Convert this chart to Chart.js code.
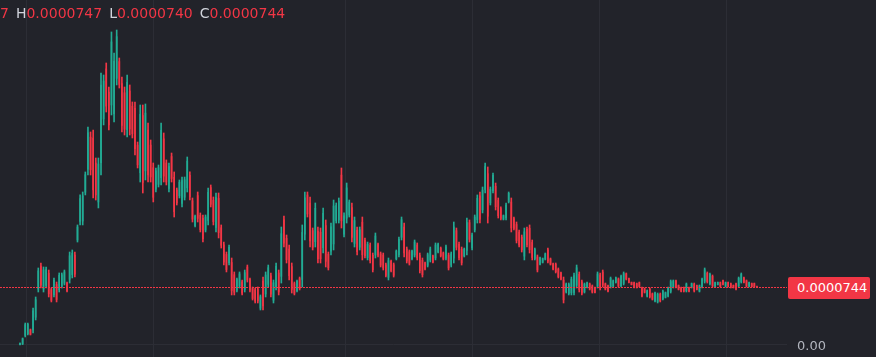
<!DOCTYPE html>
<html><head><meta charset="utf-8">
<script src="https://cdn.jsdelivr.net/npm/chart.js@4.4.1/dist/chart.umd.min.js"></script>
<style>
html,body{margin:0;padding:0;background:#22232a;overflow:hidden}
#wrap{position:relative;width:876px;height:357px}
canvas{display:block}
#legend{position:absolute;left:0;top:6px;font:14px "DejaVu Sans",sans-serif;line-height:14px;white-space:nowrap}
#legend .k{color:#d1d4dc;margin-left:7px}
#legend .v{color:#f23645}
#tag{position:absolute;left:788px;width:73px;height:22px;padding-left:9px;background:#f23645;border-radius:2px;color:#fff;font:13px "DejaVu Sans",sans-serif;line-height:22px;white-space:nowrap}
</style></head>
<body><div id="wrap"><canvas id="c" width="876" height="357"></canvas><div id="legend"></div><div id="tag"></div></div>
<script>
// prices in units of 0.0000001
const opens = [
5,15,123,146,196,192,356,717,1014,718,
763,921,710,645,777,709,754,793,793,843,
903,1155,1347,1586,1590,1960,2255,2667,2653,2334,
1835,2338,2900,3543,3244,3079,2967,3421,3636,3353,
3236,2764,3259,3063,3036,2564,2210,2944,2234,2757,
2565,2275,2000,2061,2148,2645,2335,2008,2418,2151,
1988,1914,1817,1895,2017,2177,1849,1532,1917,1665,
1626,1476,1597,2019,1856,1510,1881,1504,1286,1162,
1057,1059,902,702,756,811,714,1000,838,724,
708,719,472,821,655,778,887,574,748,924,
881,1607,1368,1229,1006,788,698,852,840,1421,
1924,1822,1467,1325,1459,1447,1249,1532,1165,1204,
1296,1596,1604,2179,1423,1627,1668,1762,1303,1471,
1254,1576,1342,1119,1278,1151,1155,1287,1170,1154,
1030,868,1073,1030,1106,1160,1382,1513,1232,1196,
1106,1155,1283,1149,1087,1053,1022,1088,1143,1117,
1195,1242,1181,1114,1154,1024,1115,1467,1293,1229,
1143,1212,1570,1245,1476,1608,1915,1734,1996,2198,
1824,1981,2036,1855,1751,1612,1630,1839,1834,1622,
1546,1449,1385,1140,1483,1497,1316,1109,1129,1038,
1060,1102,1221,1105,1041,1037,973,925,832,682,
660,670,676,766,906,811,682,740,784,758,
735,756,898,936,784,759,748,755,804,846,
762,790,913,852,803,799,787,800,729,723,
627,716,656,567,554,653,592,612,631,687,
743,822,762,736,736,694,736,739,781,762,
691,746,818,920,788,880,752,775,800,826,
752,800,787,765,784,759,810,863,823,752,
789,789,747];
const highs = [
26,90,282,282,205,475,616,988,1052,1001,
1001,962,731,860,808,924,924,962,808,1193,
1219,1193,1540,1925,1963,2220,2797,2733,2758,2399,
2399,3490,3464,3618,3310,4016,3746,4041,3682,3438,
3310,3464,3336,3118,3118,2604,3079,3079,3092,2848,
2630,2335,2271,2309,2848,2720,2374,2335,2463,2220,
2014,2117,2155,2155,2412,2220,1886,1668,1963,1694,
1668,1668,2014,2053,1899,1950,1950,1540,1321,1193,
1283,1116,937,860,937,834,962,1026,860,744,
731,744,642,872,937,1026,924,834,1052,962,
1514,1655,1411,1283,1052,808,834,872,1540,1963,
1963,1899,1501,1822,1514,1501,1758,1604,1193,1565,
1860,1822,1886,2271,1694,2078,1860,1822,1642,1514,
1514,1642,1373,1321,1309,1180,1437,1309,1193,1180,
1052,1116,1091,1052,1219,1386,1642,1565,1257,1219,
1219,1347,1309,1180,1116,1065,1180,1257,1155,1309,
1309,1257,1193,1283,1180,1193,1578,1501,1321,1257,
1244,1629,1604,1437,1668,1925,1963,2027,2335,2284,
2027,2207,2078,1886,1771,1668,1822,1963,1886,1642,
1578,1475,1411,1501,1514,1540,1347,1244,1155,1129,
1116,1180,1244,1116,1052,1052,988,937,872,795,
795,872,924,1026,937,834,795,808,795,770,
744,937,924,962,795,770,872,834,872,860,
898,937,924,860,808,808,795,808,744,731,
706,731,667,680,667,667,706,680,744,834,
834,834,770,744,744,795,744,795,795,770,
770,860,988,937,924,898,808,808,808,834,
808,808,795,770,795,872,924,872,834,808,
795,795,747];
const lows = [
2,5,103,128,128,154,321,680,731,680,
731,616,552,616,552,680,731,770,680,795,
860,872,1321,1540,1540,1925,2181,2181,1886,1860,
1758,2181,2823,2989,2758,2951,2861,3336,3297,2733,
2694,2669,2694,2656,2438,2271,2091,1950,2117,2091,
2091,1835,1963,2027,2053,2091,2053,1963,2091,1642,
1796,1886,1771,1860,1963,1860,1578,1514,1578,1450,
1321,1450,1540,1771,1540,1450,1373,1244,1026,937,
1026,642,642,680,731,642,680,808,680,577,
539,539,449,449,616,744,616,539,706,642,
795,1257,1052,834,667,642,680,706,744,1347,
1642,1257,1219,1257,1052,1052,1180,1001,962,1155,
1219,1565,1565,1501,1386,1565,1642,1321,1257,1155,
1219,1091,1116,1091,1052,937,1116,1129,1001,962,
872,834,937,872,1091,1129,1347,1129,1052,1026,
1091,1129,1091,924,872,962,1001,1065,1052,1091,
1180,1129,1091,1091,962,1001,1052,1219,1091,1026,
1129,1155,1321,1219,1450,1565,1565,1694,1950,1565,
1796,1950,1732,1629,1604,1604,1604,1822,1450,1475,
1309,1257,1193,1091,1257,1180,1091,1091,937,1026,
1052,1091,1052,1026,962,924,860,834,539,667,
642,642,642,731,680,642,667,731,706,667,
667,731,706,744,706,680,731,744,795,744,
744,770,834,795,770,731,731,744,616,667,
616,603,577,552,539,552,577,603,616,667,
731,731,706,680,680,680,680,731,680,706,
680,731,795,795,770,744,744,770,744,770,
744,744,731,731,706,744,795,795,744,744,
744,744,740];
const closes = [
23,80,262,264,137,437,581,951,769,963,
969,657,573,831,583,895,901,939,695,1145,
1176,910,1514,1879,1913,2185,2723,2247,1991,1925,
2322,3333,3387,3064,2824,3888,3640,3956,3343,2818,
2768,3369,2771,2711,2520,2311,2960,2085,2975,2182,
2156,1895,2234,2275,2753,2166,2092,2290,2136,1711,
1822,2089,2109,2120,2358,1903,1615,1650,1624,1479,
1363,1642,1957,1805,1583,1890,1442,1280,1061,968,
1252,699,677,838,912,665,928,834,702,597,
562,564,619,500,898,992,653,799,1010,680,
1428,1305,1095,888,713,662,816,726,1444,1889,
1681,1334,1253,1754,1107,1106,1689,1073,990,1516,
1783,1791,1847,1593,1657,2016,1834,1381,1596,1198,
1479,1157,1147,1293,1083,966,1398,1151,1024,988,
894,1082,955,894,1204,1355,1607,1181,1077,1049,
1204,1321,1117,955,901,974,1159,1234,1064,1283,
1294,1144,1103,1260,988,1170,1515,1253,1119,1054,
1230,1572,1355,1411,1642,1882,1613,1987,2289,1651,
1999,2176,1774,1660,1624,1660,1796,1946,1502,1495,
1341,1283,1219,1452,1288,1223,1122,1226,963,1117,
1108,1169,1075,1037,973,939,875,846,579,780,
777,844,890,991,711,665,780,799,717,679,
676,912,732,770,717,691,855,823,863,758,
880,917,845,803,775,740,739,752,631,675,
695,618,588,665,652,566,691,671,729,814,
822,743,714,688,688,781,688,787,694,714,
759,845,965,812,906,762,800,803,752,778,
800,752,739,736,717,857,909,804,755,800,
750,750,744];
const priceTicks = [0];
const timeGridIdx = [2.3, 50.9, 124.7, 173.3, 221.9, 270.5];

const UNIT = 1e-7;
const UP = '#22ab94', DOWN = '#f23645';
const fmt = v => (v * UNIT).toFixed(7);
const n = closes.length;
const colors = closes.map((c, i) => c >= opens[i] ? UP : DOWN);

const lastIdx = n - 1;
const oStr = fmt(opens[lastIdx]);
const legend = document.getElementById('legend');
legend.innerHTML =
  '<span class="v" style="margin-left:0">' + oStr.slice(-1) + '</span>' +
  '<span class="k">H</span><span class="v">' + fmt(highs[lastIdx]) + '</span>' +
  '<span class="k">L</span><span class="v">' + fmt(lows[lastIdx]) + '</span>' +
  '<span class="k">C</span><span class="v">' + fmt(closes[lastIdx]) + '</span>';

const lastLine = {
  id: 'lastLine',
  afterDatasetsDraw(chart) {
    const y = Math.round(chart.scales.y.getPixelForValue(closes[lastIdx])) + 0.5;
    const ctx = chart.ctx, a = chart.chartArea;
    ctx.save();
    ctx.strokeStyle = DOWN;
    ctx.lineWidth = 1;
    ctx.setLineDash([2, 1]);
    ctx.beginPath();
    ctx.moveTo(a.left, y);
    ctx.lineTo(a.right, y);
    ctx.stroke();
    ctx.restore();
    const tag = document.getElementById('tag');
    tag.textContent = fmt(closes[lastIdx]);
    tag.style.top = (Math.round(y) - 11) + 'px';
  }
};

const noPad = s => { s.paddingTop = 0; s.paddingBottom = 0; s.paddingLeft = 0; s.paddingRight = 0; };

new Chart(document.getElementById('c'), {
  type: 'bar',
  data: {
    datasets: [
      {
        data: highs.map((h, i) => ({ x: i, y: [lows[i], h] })),
        backgroundColor: colors,
        barThickness: 1,
        grouped: false,
        borderWidth: 0,
        order: 2
      },
      {
        data: opens.map((o, i) => ({ x: i, y: [o, closes[i]] })),
        backgroundColor: colors,
        barThickness: 1,
        grouped: false,
        borderWidth: 0,
        minBarLength: 1,
        order: 1
      }
    ]
  },
  options: {
    responsive: false,
    animation: false,
    devicePixelRatio: 1,
    layout: { padding: 0 },
    plugins: { legend: { display: false }, tooltip: { enabled: false } },
    scales: {
      x: {
        type: 'linear', min: -7.65, max: 293.5, offset: false,
        grid: { color: '#2c2d35', drawTicks: false, offset: false },
        border: { display: false },
        ticks: { display: false, padding: 0 },
        afterBuildTicks: s => { s.ticks = timeGridIdx.map(v => ({ value: v })); },
        afterFit: s => { s.height = 0; noPad(s); }
      },
      y: {
        position: 'right', min: -154, max: 4426,
        grid: { color: '#2c2d35', drawTicks: false },
        border: { display: false },
        ticks: {
          color: '#b2b5be', padding: 10, labelOffset: 2,
          font: { family: 'DejaVu Sans', size: 13 },
          callback: v => (v * UNIT).toFixed(2)
        },
        afterBuildTicks: s => { s.ticks = priceTicks.map(v => ({ value: v })); },
        afterFit: s => { s.width = 89; noPad(s); }
      }
    }
  },
  plugins: [lastLine]
});
</script>
</body></html>
